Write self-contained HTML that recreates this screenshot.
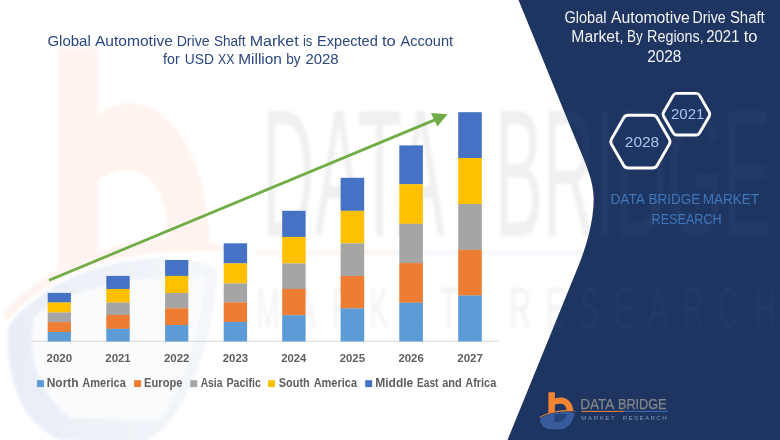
<!DOCTYPE html>
<html lang="en">
<head>
<meta charset="utf-8">
<title>Global Automotive Drive Shaft Market</title>
<style>
  html, body { margin: 0; padding: 0; background: #ffffff; }
  body { width: 780px; height: 440px; overflow: hidden; }
  svg { display: block; }
  text { font-family: "Liberation Sans", sans-serif; }
</style>
</head>
<body>
<svg width="780" height="440" viewBox="0 0 780 440">
  <defs>
    <filter id="soft" x="-5%" y="-5%" width="110%" height="110%"><feGaussianBlur stdDeviation="0.45"/></filter>
    <filter id="tsoft" x="-2%" y="-20%" width="104%" height="140%"><feGaussianBlur stdDeviation="0.3"/></filter>
    <filter id="wmblur" x="-5%" y="-5%" width="110%" height="110%"><feGaussianBlur stdDeviation="1.6"/></filter>
    <linearGradient id="wmblue" x1="0" y1="0" x2="1" y2="0"><stop offset="0" stop-color="#E8EDF6"/><stop offset="0.5" stop-color="#EEF2F8"/><stop offset="1" stop-color="#F4F6FA"/></linearGradient>
    <clipPath id="navyclip"><path d="M518.5,0 L575.8,140 C584.8,162 593.7,180 593.7,199 C593.7,222 585.7,248 578.8,265 L507.5,440 L780,440 L780,0 Z"/></clipPath>
  </defs>

  <rect x="0" y="0" width="780" height="440" fill="#ffffff"/>

  <!-- ===== faint watermark on white (stretched logo) ===== -->
  <g filter="url(#wmblur)">
    <g transform="translate(58,48) scale(6.1,10.64) translate(-548.4,-392.2)">
      <path d="M540.3,418.3 C545,415 552,412.9 560,412.2 C566,411.7 571,412 574.5,413 C574.4,417.5 571.5,423 568.5,425.8 C566,428.2 563.5,429.3 561,429.4 L548.6,429 C545,428 543,426.5 542.2,425.4 C540.6,423.3 539.8,420.6 540.3,418.3 Z" fill="url(#wmblue)"/>
      <path d="M544.6,417.4 C550,414.9 560,413.5 572.4,413.7 C572.2,418 569.5,423.5 565,427.2 L550.5,427 C545.5,425 543,421 544.6,417.4 Z" fill="#FAFBFD"/>
      <path d="M548.4,392.2 H554.9 V398.5 C558,397.2 561,397.2 563.5,397.8 C569,399.4 573,404 573.2,410.7 L566.5,410.2 C566.6,406.8 564.5,404.4 561.5,403.8 C559.3,403.4 557,403.8 554.9,404.7 V411.4 L548.4,412.9 Z" fill="#FEF3EE"/>
      <path d="M539.6,417.1 C546,412.8 556,410.5 566,410 C570,409.9 574,410.4 576.9,411.3 C570,411.1 562,411.4 556,412.3 C549,413.5 544,415.3 540,417.8 Z" fill="#FEF3EE"/>
    </g>
    <text x="262" y="236" font-size="182" fill="#F0F0F0" textLength="183" lengthAdjust="spacingAndGlyphs">DATA</text>
    <text x="495" y="236" font-size="182" fill="#F0F0F0" textLength="276" lengthAdjust="spacingAndGlyphs">BRIDGE</text>
    <rect x="256" y="251.6" width="140" height="2.4" fill="#FCEBE0"/>
    <rect x="396" y="251.6" width="200" height="2.4" fill="#ECF0F7"/>
    <g transform="translate(256,328) scale(0.5,1)">
      <text x="0" y="0" font-size="58" fill="#F2F2F2" textLength="404" lengthAdjust="spacing">MARKET</text>
      <text x="508" y="0" font-size="58" fill="#F2F2F2" textLength="530" lengthAdjust="spacing">RESEARCH</text>
    </g>
  </g>

  <!-- ===== chart ===== -->
  <g filter="url(#soft)">
    <rect x="30.4" y="340.8" width="468.6" height="1" fill="#D9D9D9"/>
    <!-- 2020 -->
    <rect x="47.7" y="292.9" width="23.2" height="9.7" fill="#4472C4"/>
    <rect x="47.7" y="302.5" width="23.2" height="10.1" fill="#FFC000"/>
    <rect x="47.7" y="312.5" width="23.2" height="9.7" fill="#A5A5A5"/>
    <rect x="47.7" y="322.1" width="23.2" height="9.9" fill="#ED7D31"/>
    <rect x="47.7" y="331.9" width="23.2" height="9.6" fill="#5B9BD5"/>
    <!-- 2021 -->
    <rect x="106.3" y="275.9" width="23.4" height="13.2" fill="#4472C4"/>
    <rect x="106.3" y="289.0" width="23.4" height="13.7" fill="#FFC000"/>
    <rect x="106.3" y="302.6" width="23.4" height="12.4" fill="#A5A5A5"/>
    <rect x="106.3" y="314.9" width="23.4" height="14.0" fill="#ED7D31"/>
    <rect x="106.3" y="328.8" width="23.4" height="12.7" fill="#5B9BD5"/>
    <!-- 2022 -->
    <rect x="165.1" y="260.0" width="23.2" height="16.0" fill="#4472C4"/>
    <rect x="165.1" y="275.9" width="23.2" height="17.1" fill="#FFC000"/>
    <rect x="165.1" y="292.9" width="23.2" height="15.5" fill="#A5A5A5"/>
    <rect x="165.1" y="308.3" width="23.2" height="16.8" fill="#ED7D31"/>
    <rect x="165.1" y="325.0" width="23.2" height="16.5" fill="#5B9BD5"/>
    <!-- 2023 -->
    <rect x="223.7" y="243.3" width="23.4" height="20.2" fill="#4472C4"/>
    <rect x="223.7" y="263.4" width="23.4" height="20.1" fill="#FFC000"/>
    <rect x="223.7" y="283.4" width="23.4" height="19.1" fill="#A5A5A5"/>
    <rect x="223.7" y="302.4" width="23.4" height="19.6" fill="#ED7D31"/>
    <rect x="223.7" y="321.9" width="23.4" height="19.6" fill="#5B9BD5"/>
    <!-- 2024 -->
    <rect x="282.2" y="210.8" width="23.4" height="26.2" fill="#4472C4"/>
    <rect x="282.2" y="236.9" width="23.4" height="26.6" fill="#FFC000"/>
    <rect x="282.2" y="263.4" width="23.4" height="25.6" fill="#A5A5A5"/>
    <rect x="282.2" y="288.9" width="23.4" height="26.4" fill="#ED7D31"/>
    <rect x="282.2" y="315.2" width="23.4" height="26.3" fill="#5B9BD5"/>
    <!-- 2025 -->
    <rect x="340.6" y="177.8" width="23.6" height="33.1" fill="#4472C4"/>
    <rect x="340.6" y="210.8" width="23.6" height="32.6" fill="#FFC000"/>
    <rect x="340.6" y="243.3" width="23.6" height="32.8" fill="#A5A5A5"/>
    <rect x="340.6" y="276.0" width="23.6" height="32.5" fill="#ED7D31"/>
    <rect x="340.6" y="308.4" width="23.6" height="33.1" fill="#5B9BD5"/>
    <!-- 2026 -->
    <rect x="399.3" y="145.4" width="23.6" height="38.9" fill="#4472C4"/>
    <rect x="399.3" y="184.2" width="23.6" height="39.7" fill="#FFC000"/>
    <rect x="399.3" y="223.8" width="23.6" height="39.4" fill="#A5A5A5"/>
    <rect x="399.3" y="263.1" width="23.6" height="39.7" fill="#ED7D31"/>
    <rect x="399.3" y="302.7" width="23.6" height="38.8" fill="#5B9BD5"/>
    <!-- 2027 -->
    <rect x="458.2" y="112.2" width="23.6" height="45.9" fill="#4472C4"/>
    <rect x="458.2" y="158.0" width="23.6" height="46.1" fill="#FFC000"/>
    <rect x="458.2" y="204.0" width="23.6" height="45.9" fill="#A5A5A5"/>
    <rect x="458.2" y="249.8" width="23.6" height="45.8" fill="#ED7D31"/>
    <rect x="458.2" y="295.5" width="23.6" height="46.0" fill="#5B9BD5"/>
    <!-- trend arrow -->
    <line x1="49.1" y1="280.2" x2="436" y2="119.4" stroke="#70AD47" stroke-width="2.8"/>
    <polygon points="447.7,114.3 430.9,113.0 437.3,126.4" fill="#70AD47"/>
  </g>

  <!-- chart title -->
  <g fill="#2B477E" font-size="15.4" filter="url(#tsoft)">
    <text x="47.45" y="46" textLength="43.37" lengthAdjust="spacingAndGlyphs">Global</text>
    <text x="94.96" y="46" textLength="77.90" lengthAdjust="spacingAndGlyphs">Automotive</text>
    <text x="176.63" y="46" textLength="33.09" lengthAdjust="spacingAndGlyphs">Drive</text>
    <text x="213.89" y="46" textLength="31.61" lengthAdjust="spacingAndGlyphs">Shaft</text>
    <text x="249.68" y="46" textLength="48.96" lengthAdjust="spacingAndGlyphs">Market</text>
    <text x="302.92" y="46" textLength="9.44" lengthAdjust="spacingAndGlyphs">is</text>
    <text x="317.10" y="46" textLength="60.64" lengthAdjust="spacingAndGlyphs">Expected</text>
    <text x="381.95" y="46" textLength="13.84" lengthAdjust="spacingAndGlyphs">to</text>
    <text x="400.46" y="46" textLength="52.66" lengthAdjust="spacingAndGlyphs">Account</text>
    <text x="163.09" y="64.4" textLength="16.62" lengthAdjust="spacingAndGlyphs">for</text>
    <text x="184.73" y="64.4" textLength="29.21" lengthAdjust="spacingAndGlyphs">USD</text>
    <text x="218.02" y="64.4" textLength="16.44" lengthAdjust="spacingAndGlyphs">XX</text>
    <text x="238.23" y="64.4" textLength="43.70" lengthAdjust="spacingAndGlyphs">Million</text>
    <text x="286.32" y="64.4" textLength="14.33" lengthAdjust="spacingAndGlyphs">by</text>
    <text x="305.56" y="64.4" textLength="33.11" lengthAdjust="spacingAndGlyphs">2028</text>
  </g>

  <!-- year labels -->
  <g fill="#5E5E5E" font-size="10.9" font-weight="bold" filter="url(#tsoft)">
    <text x="46.60" y="362.3" textLength="25.48" lengthAdjust="spacingAndGlyphs">2020</text>
    <text x="105.30" y="362.3" textLength="25.34" lengthAdjust="spacingAndGlyphs">2021</text>
    <text x="164.00" y="362.3" textLength="25.48" lengthAdjust="spacingAndGlyphs">2022</text>
    <text x="222.70" y="362.3" textLength="25.43" lengthAdjust="spacingAndGlyphs">2023</text>
    <text x="281.21" y="362.3" textLength="25.08" lengthAdjust="spacingAndGlyphs">2024</text>
    <text x="339.70" y="362.3" textLength="25.34" lengthAdjust="spacingAndGlyphs">2025</text>
    <text x="398.40" y="362.3" textLength="25.43" lengthAdjust="spacingAndGlyphs">2026</text>
    <text x="457.30" y="362.3" textLength="25.51" lengthAdjust="spacingAndGlyphs">2027</text>
  </g>

  <!-- legend -->
  <g filter="url(#soft)">
    <rect x="37.0" y="380.2" width="7" height="6.9" fill="#5B9BD5"/>
    <rect x="134.1" y="380.2" width="7" height="6.9" fill="#ED7D31"/>
    <rect x="190.2" y="380.2" width="7" height="6.9" fill="#A5A5A5"/>
    <rect x="268.0" y="380.2" width="7" height="6.9" fill="#FFC000"/>
    <rect x="365.2" y="380.2" width="7" height="6.9" fill="#4472C4"/>
  </g>
  <g fill="#5E5E5E" font-size="11.9" font-weight="bold" filter="url(#tsoft)">
    <text x="46.69" y="387.1" textLength="31.94" lengthAdjust="spacingAndGlyphs">North</text>
    <text x="82.22" y="387.1" textLength="43.61" lengthAdjust="spacingAndGlyphs">America</text>
    <text x="144.05" y="387.1" textLength="38.41" lengthAdjust="spacingAndGlyphs">Europe</text>
    <text x="200.64" y="387.1" textLength="21.81" lengthAdjust="spacingAndGlyphs">Asia</text>
    <text x="226.38" y="387.1" textLength="34.54" lengthAdjust="spacingAndGlyphs">Pacific</text>
    <text x="278.77" y="387.1" textLength="30.99" lengthAdjust="spacingAndGlyphs">South</text>
    <text x="313.63" y="387.1" textLength="43.41" lengthAdjust="spacingAndGlyphs">America</text>
    <text x="375.19" y="387.1" textLength="38.12" lengthAdjust="spacingAndGlyphs">Middle</text>
    <text x="417.12" y="387.1" textLength="21.31" lengthAdjust="spacingAndGlyphs">East</text>
    <text x="442.17" y="387.1" textLength="19.55" lengthAdjust="spacingAndGlyphs">and</text>
    <text x="465.33" y="387.1" textLength="30.91" lengthAdjust="spacingAndGlyphs">Africa</text>
  </g>

  <!-- ===== navy panel ===== -->
  <path d="M518.5,0 L575.8,140 C584.8,162 593.7,180 593.7,199 C593.7,222 585.7,248 578.8,265 L507.5,440 L780,440 L780,0 Z" fill="#1E3562"/>

  <!-- faint watermark over navy -->
  <g clip-path="url(#navyclip)" filter="url(#wmblur)" opacity="0.03">
    <text x="495" y="236" font-size="182" fill="#ffffff" textLength="276" lengthAdjust="spacingAndGlyphs">BRIDGE</text>
    <g transform="translate(256,328) scale(0.5,1)">
      <text x="508" y="0" font-size="58" fill="#ffffff" textLength="530" lengthAdjust="spacing">RESEARCH</text>
    </g>
  </g>

  <!-- right title -->
  <g fill="#F2F2F2" font-size="15.6" filter="url(#tsoft)">
    <text x="564.47" y="22.9" textLength="42.02" lengthAdjust="spacingAndGlyphs">Global</text>
    <text x="610.96" y="22.9" textLength="78.91" lengthAdjust="spacingAndGlyphs">Automotive</text>
    <text x="692.53" y="22.9" textLength="33.09" lengthAdjust="spacingAndGlyphs">Drive</text>
    <text x="729.93" y="22.9" textLength="34.78" lengthAdjust="spacingAndGlyphs">Shaft</text>
    <text x="571.30" y="42.1" textLength="52.44" lengthAdjust="spacingAndGlyphs">Market,</text>
    <text x="627.09" y="42.1" textLength="15.63" lengthAdjust="spacingAndGlyphs">By</text>
    <text x="647.01" y="42.1" textLength="56.77" lengthAdjust="spacingAndGlyphs">Regions,</text>
    <text x="706.25" y="42.1" textLength="33.19" lengthAdjust="spacingAndGlyphs">2021</text>
    <text x="743.65" y="42.1" textLength="13.73" lengthAdjust="spacingAndGlyphs">to</text>
    <text x="647.13" y="61.6" textLength="34.26" lengthAdjust="spacingAndGlyphs">2028</text>
  </g>

  <!-- hexagons -->
  <g fill="#1E3562" stroke="#ffffff" stroke-width="2.9" stroke-linejoin="round" filter="url(#soft)">
    <path d="M611.44,144.15 A5,5 0 0 1 611.44,139.15 L623.76,117.82 A5,5 0 0 1 628.09,115.32 L652.71,115.32 A5,5 0 0 1 657.04,117.82 L669.36,139.15 A5,5 0 0 1 669.36,144.15 L657.04,165.48 A5,5 0 0 1 652.71,167.98 L628.09,167.98 A5,5 0 0 1 623.76,165.48 Z"/>
    <path d="M663.55,116.15 A4,4 0 0 1 663.55,112.15 L673.25,95.37 A4,4 0 0 1 676.71,93.37 L696.09,93.37 A4,4 0 0 1 699.55,95.37 L709.25,112.15 A4,4 0 0 1 709.25,116.15 L699.55,132.93 A4,4 0 0 1 696.09,134.93 L676.71,134.93 A4,4 0 0 1 673.25,132.93 Z"/>
  </g>
  <g fill="#A9C6EA" font-size="15.3" filter="url(#tsoft)">
    <text x="624.83" y="147.3" textLength="34.26" lengthAdjust="spacingAndGlyphs">2028</text>
    <text x="670.95" y="119.0" textLength="33.40" lengthAdjust="spacingAndGlyphs">2021</text>
  </g>

  <!-- DBMR caption -->
  <g fill="#3F76BA" font-size="15" filter="url(#tsoft)">
    <text x="610.47" y="203.9" textLength="34.55" lengthAdjust="spacingAndGlyphs">DATA</text>
    <text x="648.59" y="203.9" textLength="51.78" lengthAdjust="spacingAndGlyphs">BRIDGE</text>
    <text x="702.68" y="203.9" textLength="56.45" lengthAdjust="spacingAndGlyphs">MARKET</text>
    <text x="651.56" y="223.6" textLength="70.07" lengthAdjust="spacingAndGlyphs">RESEARCH</text>
  </g>

  <!-- logo -->
  <g filter="url(#soft)">
    <path d="M540.3,418.3 C545,415 552,412.9 560,412.2 C566,411.7 571,412 574.5,413 C574.4,417.5 571.5,423 568.5,425.8 C566,428.2 563.5,429.3 561,429.4 L548.6,429 C545,428 543,426.5 542.2,425.4 C540.6,423.3 539.8,420.6 540.3,418.3 Z" fill="#375C9B"/>
    <path d="M554.5,414.2 L566.6,414 C566.9,418 563.2,421.5 559,422 L554.6,422 Z" fill="#25427A"/>
    <path d="M548.4,392.2 H554.9 V398.5 C558,397.2 561,397.2 563.5,397.8 C569,399.4 573,404 573.2,410.7 L566.5,410.2 C566.6,406.8 564.5,404.4 561.5,403.8 C559.3,403.4 557,403.8 554.9,404.7 V411.4 L548.4,412.9 Z" fill="#F58431"/>
    <path d="M539.6,417.1 C546,412.8 556,410.5 566,410 C570,409.9 574,410.4 576.9,411.3 C570,411.1 562,411.4 556,412.3 C549,413.5 544,415.3 540,417.8 Z" fill="#F58431"/>
    <rect x="581.3" y="410.9" width="42.6" height="1" fill="#E9823A"/>
    <rect x="623.9" y="410.9" width="43.9" height="1" fill="#3F6DB0"/>
  </g>
  <g font-size="14.8" fill="#858589" stroke="#858589" stroke-width="0.25">
    <text x="580.18" y="409.2" textLength="34.13" lengthAdjust="spacingAndGlyphs">DATA</text>
    <text x="617.95" y="409.2" textLength="48.57" lengthAdjust="spacingAndGlyphs">BRIDGE</text>
  </g>
  <g font-size="6.2" fill="#7E91B2">
    <text x="581.3" y="419.5" textLength="33.5" lengthAdjust="spacing">MARKET</text>
    <text x="622.8" y="419.5" textLength="43.8" lengthAdjust="spacing">RESEARCH</text>
  </g>
</svg>
</body>
</html>
